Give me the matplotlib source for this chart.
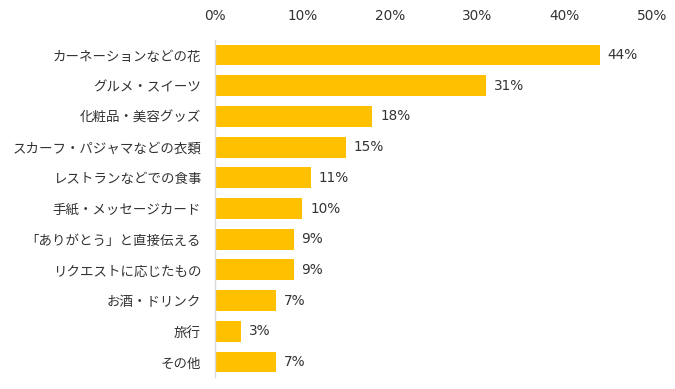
import matplotlib
matplotlib.use('Agg')
import matplotlib.pyplot as plt

plt.rcParams['font.family'] = ['Noto Sans CJK JP', 'DejaVu Sans']

categories = ['カーネーションなどの花', 'グルメ・スイーツ', '化粧品・美容グッズ',
              'スカーフ・パジャマなどの衣類', 'レストランなどでの食事',
              '手紙・メッセージカード', '「ありがとう」と直接伝える',
              'リクエストに応じたもの', 'お酒・ドリンク', '旅行', 'その他']
values = [44, 31, 18, 15, 11, 10, 9, 9, 7, 3, 7]
ticks = [0, 10, 20, 30, 40, 50]

text_color = '#333333'
num_font = ['DejaVu Sans']

fig = plt.figure(figsize=(6.75, 3.89), dpi=100)
ax = fig.add_axes([0.3185, 0.03, 0.6475, 0.868])

pos = list(range(len(categories)))
ax.barh(pos, values, height=0.68, color='#FFC000', edgecolor='none')
for p, v in zip(pos, values):
    ax.text(v + 0.9, p, f'{v}%', va='center', ha='left', fontsize=9.8,
            color=text_color, family=num_font)

ax.set_ylim(len(categories) - 0.5, -0.5)
ax.set_xlim(0, 50)
ax.set_yticks(pos)
ax.set_yticklabels(categories, fontsize=9.7, color=text_color)
ax.set_xticks(ticks)
ax.set_xticklabels([f'{t}%' for t in ticks], fontsize=9.8, color=text_color,
                   family=num_font)
ax.xaxis.tick_top()
ax.tick_params(axis='y', length=0, pad=10)
ax.tick_params(axis='x', length=0, pad=12)

for s in ['top', 'right', 'bottom']:
    ax.spines[s].set_visible(False)
ax.spines['left'].set_color('#D9D9D9')
ax.spines['left'].set_linewidth(1)

fig.savefig('out.png', dpi=100, facecolor='white')
plt.close()
